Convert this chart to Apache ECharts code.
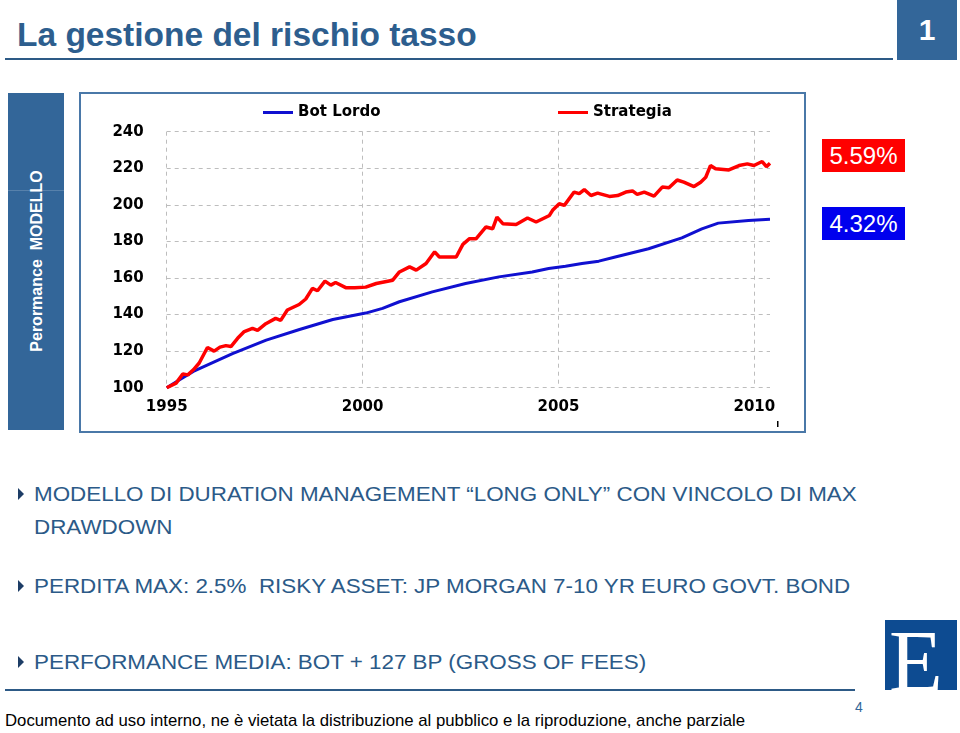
<!DOCTYPE html>
<html>
<head>
<meta charset="utf-8">
<script src="https://cdn.jsdelivr.net/npm/echarts@6/dist/echarts.min.js"></script>
<style>
  html, body { margin:0; padding:0; background:#fff; }
  body { width:960px; height:733px; position:relative; overflow:hidden; font-family:"Liberation Sans", Arial, sans-serif; }
  .abs { position:absolute; white-space:nowrap; line-height:1; }
  #chart { position:absolute; left:0; top:0; width:960px; height:733px; z-index:5; }
  .bullet { position:absolute; width:0; height:0; border-top:6px solid transparent; border-bottom:6px solid transparent; border-left:6px solid #1d3d66; }
  .btxt { color:#2b5a88; font-size:20px; font-family:"Liberation Sans", Arial, sans-serif; transform:scaleX(1.12); transform-origin:0 50%; }
</style>
</head>
<body>
<!-- title -->
<div class="abs" style="left:17px;top:17px;font-family:'Liberation Sans',Arial,sans-serif;font-weight:bold;font-size:34px;color:#2d5e8e;transform:scaleX(0.985);transform-origin:0 50%;">La gestione del rischio tasso</div>
<div class="abs" style="left:5px;top:58px;width:888px;height:2px;background:#2d5a86;"></div>
<div class="abs" style="left:897px;top:0px;width:60px;height:60px;background:#336699;"></div>
<div class="abs" style="left:897px;top:15px;width:60px;text-align:center;font-weight:bold;font-size:30px;color:#fff;">1</div>

<!-- sidebar -->
<div class="abs" style="left:8px;top:93px;width:56px;height:337px;background:#336699;"></div>
<div class="abs" style="left:8px;top:190px;width:56px;height:1px;background:rgba(255,255,255,0.18);"></div>
<div class="abs" style="left:37px;top:261px;transform:translate(-50%,-50%) rotate(-90deg);font-weight:bold;font-size:16px;color:#fff;">Perormance&nbsp;&nbsp;MODELLO</div>

<!-- chart frame -->
<div class="abs" style="left:79px;top:92px;width:723px;height:337px;border:2px solid #4a78a8;"></div>

<!-- end value labels -->
<div class="abs" style="left:822px;top:139px;width:83px;height:33px;background:#ff0000;"></div>
<div class="abs" style="left:822px;top:144px;width:83px;text-align:center;font-size:24px;color:#fff;">5.59%</div>
<div class="abs" style="left:822px;top:207px;width:83px;height:33px;background:#0000ee;"></div>
<div class="abs" style="left:822px;top:212px;width:83px;text-align:center;font-size:24px;color:#fff;">4.32%</div>

<!-- bullets -->
<div class="bullet" style="left:18px;top:488px;"></div>
<div class="abs btxt" style="left:34px;top:484px;">MODELLO DI DURATION MANAGEMENT “LONG ONLY” CON VINCOLO DI MAX</div>
<div class="abs btxt" style="left:34px;top:517px;">DRAWDOWN</div>
<div class="bullet" style="left:18px;top:580px;"></div>
<div class="abs btxt" style="left:34px;top:576px;">PERDITA MAX: 2.5%&nbsp;&nbsp;RISKY ASSET: JP MORGAN 7-10 YR EURO GOVT. BOND</div>
<div class="bullet" style="left:18px;top:656px;"></div>
<div class="abs btxt" style="left:34px;top:652px;">PERFORMANCE MEDIA: BOT + 127 BP (GROSS OF FEES)</div>

<!-- logo -->
<div class="abs" style="left:885px;top:620px;width:72px;height:70px;background:#0d4b91;"></div>
<div class="abs" style="left:889px;top:618px;font-family:'Liberation Serif','Times New Roman',serif;font-size:88px;color:#fff;">E</div>

<!-- footer -->
<div class="abs" style="left:5px;top:689px;width:850px;height:2px;background:#2d5a86;"></div>
<div class="abs" style="left:855px;top:700px;font-size:14px;color:#336699;">4</div>
<div class="abs" style="left:5px;top:712px;font-family:'Liberation Sans',Arial,sans-serif;font-size:17px;color:#000;transform:scaleX(0.985);transform-origin:0 50%;">Documento ad uso interno, ne è vietata la distribuzione al pubblico e la riproduzione, anche parziale</div>

<div id="chart"></div>
<script>
// Data (decimal year, index value)
const botLordo = [
  [1995.00,100.0],[1995.34,104.5],[1995.68,108.9],[1996.68,118.6],[1997.54,126.0],
  [1998.39,131.8],[1999.24,137.3],[2000.08,140.8],[2000.51,143.4],[2000.94,147.0],
  [2001.78,152.4],[2002.63,157.0],[2003.48,160.6],[2004.33,163.3],[2004.75,165.2],
  [2005.18,166.4],[2005.60,167.9],[2006.03,169.2],[2006.45,171.5],[2007.30,176.0],
  [2008.15,181.9],[2008.66,186.9],[2009.08,190.0],[2009.85,191.5],[2010.40,192.1]
];
const strategia = [
  [1995.00,100.0],[1995.24,102.5],[1995.41,107.5],[1995.54,107.0],[1995.68,109.8],
  [1995.83,113.5],[1996.04,122.0],[1996.21,120.0],[1996.36,122.2],[1996.51,123.0],
  [1996.64,122.5],[1996.81,127.0],[1996.98,130.7],[1997.19,132.5],[1997.32,131.4],
  [1997.53,135.0],[1997.78,137.9],[1997.91,136.8],[1998.08,142.5],[1998.38,145.5],
  [1998.55,148.5],[1998.72,154.3],[1998.85,153.0],[1999.04,158.3],[1999.19,156.1],
  [1999.31,157.5],[1999.57,154.7],[1999.80,154.6],[2000.08,155.0],[2000.35,157.0],
  [2000.77,158.8],[2000.94,163.3],[2001.20,166.1],[2001.37,164.3],[2001.62,167.9],
  [2001.84,174.3],[2001.96,171.5],[2002.39,171.5],[2002.56,178.4],[2002.73,181.5],
  [2002.90,181.5],[2003.15,187.9],[2003.32,186.9],[2003.43,193.3],[2003.58,189.7],
  [2003.92,189.3],[2004.21,192.8],[2004.43,190.6],[2004.77,194.2],[2004.85,197.0],
  [2005.02,200.6],[2005.15,199.7],[2005.40,207.0],[2005.53,206.1],[2005.66,208.3],
  [2005.83,205.1],[2006.00,206.4],[2006.30,204.6],[2006.51,205.1],[2006.72,207.0],
  [2006.89,207.6],[2007.01,205.7],[2007.19,207.0],[2007.44,204.8],[2007.65,209.7],
  [2007.82,209.3],[2008.03,213.6],[2008.20,212.4],[2008.46,210.0],[2008.63,212.4],
  [2008.76,215.1],[2008.88,221.5],[2009.01,219.7],[2009.35,219.1],[2009.61,221.5],
  [2009.82,222.4],[2009.99,221.5],[2010.20,223.7],[2010.31,220.9],[2010.40,222.7]
];
const yearTicks = [1995, 2000, 2005, 2010];

const chart = echarts.init(document.getElementById('chart'), null, {renderer:'canvas'});
const labelFont = {fontFamily:'DejaVu Sans', fontWeight:'bold', fontSize:15, color:'#000'};
chart.setOption({
  backgroundColor:'transparent',
  animation:false,
  grid:{left:166.7, right:190, top:131.7, bottom:345.3},
  legend:[
    {data:['Bot Lordo'], left:258, top:100, icon:'rect', itemWidth:30, itemHeight:3, itemGap:0,
     textStyle:labelFont},
    {data:['Strategia'], left:553, top:100, icon:'rect', itemWidth:30, itemHeight:3, itemGap:0,
     textStyle:labelFont}
  ],
  xAxis:{
    type:'value', min:1995, max:2010.4, interval:5,
    axisLine:{show:false}, axisTick:{show:false},
    axisLabel:Object.assign({margin:12, formatter:v => yearTicks.includes(v) ? String(v) : ''}, labelFont),
    splitLine:{show:true, showMinLine:true, showMaxLine:false, lineStyle:{type:[4,4], color:'#bdbdbd', width:1}}
  },
  yAxis:{
    type:'value', min:100, max:240, interval:20,
    axisLine:{show:false}, axisTick:{show:false},
    axisLabel:Object.assign({margin:23}, labelFont),
    splitLine:{show:true, lineStyle:{type:[4,4], color:'#bdbdbd', width:1}}
  },
  graphic:[{type:'rect', shape:{x:777, y:421, width:1.5, height:6}, style:{fill:'#000'}}],
  series:[
    {name:'Bot Lordo', type:'line', data:botLordo, showSymbol:false, smooth:false,
     lineStyle:{color:'#1010d0', width:3}, itemStyle:{color:'#1010d0'}, z:2},
    {name:'Strategia', type:'line', data:strategia, showSymbol:false, smooth:false,
     lineStyle:{color:'#ff0000', width:3.5}, itemStyle:{color:'#ff0000'}, z:3}
  ]
});
</script>
</body>
</html>
